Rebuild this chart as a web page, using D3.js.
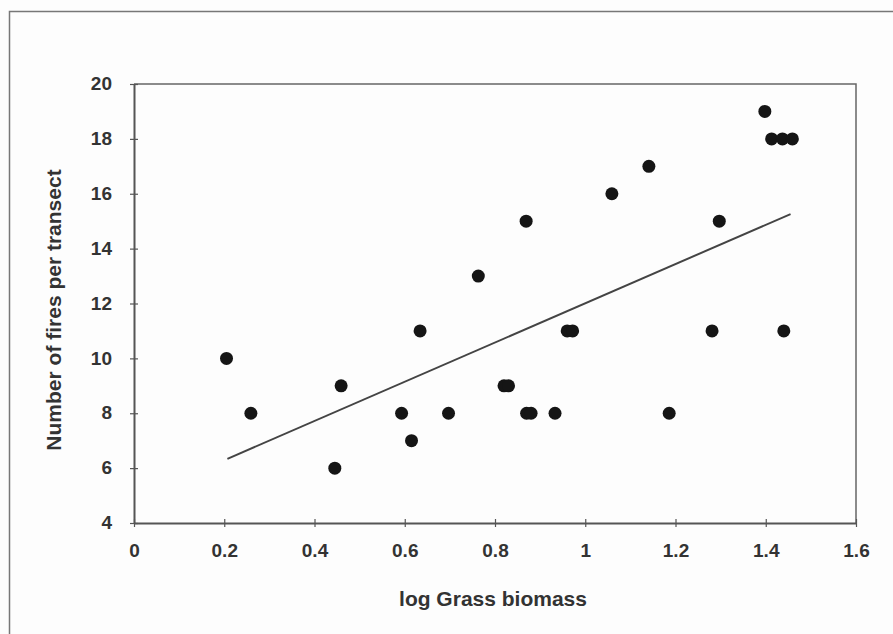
<!DOCTYPE html>
<html>
<head>
<meta charset="utf-8">
<script src="https://cdn.jsdelivr.net/npm/d3@7"></script>
<style>
  body { margin: 0; background: #fdfdfd; }
  text { font-family: "Liberation Sans", Arial, sans-serif; font-weight: bold; fill: #333; }
</style>
</head>
<body>
<div id="chart"></div>
<script>

var width = 893,
    height = 634;

var margin = {top: 84, right: 37, bottom: 111, left: 134},
    boundedWidth = width - margin.left - margin.right,
    boundedHeight = height - margin.top - margin.bottom;

// log grass biomass vs fires per transect
var grassBiomass = [0.205, 0.259, 0.445, 0.459, 0.593, 0.615, 0.634, 0.697, 0.763, 0.820, 0.830,
                    0.869, 0.870, 0.880, 0.933, 0.960, 0.972, 1.059, 1.141, 1.186, 1.281, 1.297,
                    1.398, 1.413, 1.437, 1.459, 1.440];
var firesPerTransect = [10, 8, 6, 9, 8, 7, 11, 8, 13, 9, 9,
                        15, 8, 8, 8, 11, 11, 16, 17, 8, 11, 15,
                        19, 18, 18, 18, 11];

// trend line as drawn in the figure (end points)
var trendX = [0.207, 1.455];
var trendY = [6.34, 15.26];

var xTicks = [0, 0.2, 0.4, 0.6, 0.8, 1, 1.2, 1.4, 1.6];
var yTicks = [4, 6, 8, 10, 12, 14, 16, 18, 20];

var points = grassBiomass.map(function(d, i) {
  return {x: d, y: firesPerTransect[i]};
});
var fitLine = trendX.map(function(d, i) { return {x: d, y: trendY[i]}; });

var svg = d3.select("#chart").append("svg")
  .attr("width", width)
  .attr("height", height);

// outer frame (top and left edges visible)
svg.append("path")
  .attr("d", "M9.5," + height + "V11.5H" + width)
  .attr("fill", "none")
  .attr("stroke", "#777")
  .attr("stroke-width", 1.5);

var xScale = d3.scaleLinear().domain([0, 1.6]).range([0, boundedWidth]),
    yScale = d3.scaleLinear().domain([4, 20]).range([boundedHeight, 0]);

var g = svg.append("g")
  .attr("transform", `translate(${margin.left},${margin.top})`);

// plot area border top + right
g.append("path")
  .attr("d", `M0,0H${boundedWidth}V${boundedHeight}`)
  .attr("fill", "none")
  .attr("stroke", "#666")
  .attr("stroke-width", 1.5);

var xAxis = d3.axisBottom(xScale)
  .tickValues(xTicks)
  .tickFormat(d3.format("~g"))
  .tickSizeInner(4)
  .tickSizeOuter(0)
  .tickPadding(17);

var yAxis = d3.axisLeft(yScale)
  .tickValues(yTicks)
  .tickSizeInner(4)
  .tickSizeOuter(0);

var xG = g.append("g")
  .attr("transform", "translate(0," + boundedHeight + ")")
  .call(xAxis);
var yG = g.append("g").call(yAxis);

[xG, yG].forEach(function(ax) {
  ax.select(".domain").attr("stroke", "#555").attr("stroke-width", 2);
  ax.selectAll(".tick line").attr("stroke", "#555").attr("stroke-width", 1.2);
  ax.selectAll(".tick text")
    .style("font-size", "19px")
    .style("font-family", "'Liberation Sans', Arial, sans-serif")
    .style("font-weight", "bold")
    .attr("fill", "#333");
});
// cross tick marks
xG.selectAll(".tick line").attr("y1", -4).attr("y2", 4);
yG.selectAll(".tick line").attr("x1", -4).attr("x2", 4);
yG.selectAll(".tick text").attr("x", -22).attr("dy", "0.3em");

// regression line
var lineGenerator = d3.line()
  .x(d => xScale(d.x))
  .y(d => yScale(d.y));

g.append("path")
  .attr("d", lineGenerator(fitLine))
  .attr("fill", "none")
  .attr("stroke", "#444")
  .attr("stroke-width", 2);

g.selectAll(".dot")
  .data(points)
  .enter().append("circle")
  .attr("class", "dot")
  .attr("cx", d => xScale(d.x))
  .attr("cy", d => yScale(d.y))
  .attr("r", 6.5)
  .attr("fill", "#151515");

// axis titles
svg.append("text")
  .attr("x", 493)
  .attr("y", 606)
  .attr("text-anchor", "middle")
  .style("font-size", "21px")
  .text("log Grass biomass");

svg.append("text")
  .attr("transform", "translate(61,310) rotate(-90)")
  .attr("text-anchor", "middle")
  .style("font-size", "21px")
  .text("Number of fires per transect");

</script>
</body>
</html>
